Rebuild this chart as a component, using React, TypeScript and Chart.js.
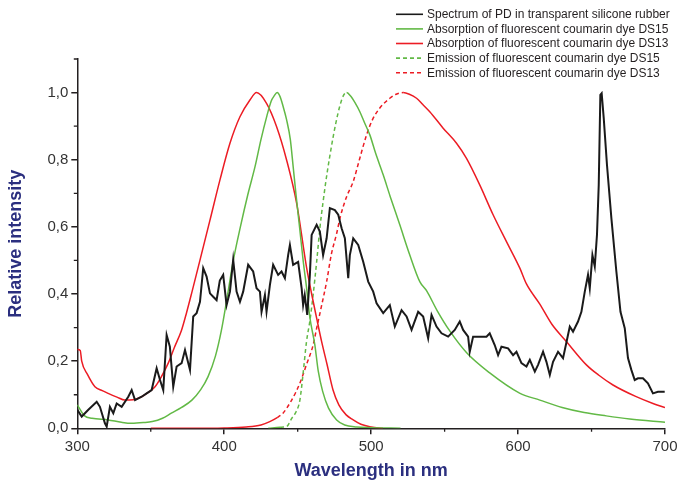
import React, { useEffect, useRef } from "react";
import { Chart, registerables } from "chart.js";

Chart.register(...registerables);

// ---------- Data ----------
const seriesLabels = [
  "Spectrum of PD in transparent silicone rubber",
  "Absorption of fluorescent coumarin dye DS15",
  "Absorption of fluorescent coumarin dye DS13",
  "Emission of fluorescent coumarin dye DS15",
  "Emission of fluorescent coumarin dye DS13",
];

const spectrumNm = [
  300, 303, 307.5, 313.2, 315.4, 318.8, 320, 322.2, 324.5, 326.8, 330.2, 334.7, 337, 339.3, 343.8, 347.2,
  350.6, 354, 356.3, 358.5, 360.8, 363, 365.3, 367.6, 371, 373.3, 376.7, 378.9, 381.2, 383.5, 385.7, 388,
  390.3, 392.5, 394.8, 397, 399.3, 401.6, 403.9, 406.1, 408.4, 410.7, 412.9, 416.3, 419.7, 422, 424.3,
  425.4, 427.7, 428.8, 431.1, 433.3, 436.7, 439, 441.3, 443.5, 444.7, 446.9, 450.3, 452.7, 453.7, 454.8,
  456.5, 458.3, 459.5, 462.9, 465.1, 467.3, 469.7, 471.9, 475.3, 477.6, 479.9, 482.1, 484.4, 485.5, 487.8,
  491.2, 494.6, 498, 501.4, 503.7, 508.2, 512.7, 516.1, 520.7, 524.1, 527.5, 532, 535.4, 538.8, 541.1,
  544.5, 547.9, 552.4, 556.9, 560.3, 562.6, 566, 567.1, 569.4, 573.9, 578.5, 580.7, 584.1, 586.4, 588.7,
  593.2, 596.6, 598.9, 602.3, 605.7, 608, 611.4, 613.6, 617, 619.3, 621.6, 623.8, 627.2, 630.6, 633,
  635.2, 637.4, 640.8, 643.1, 645.4, 647.6, 648.8, 650.6, 652.2, 653.7, 654.9, 656, 656.9, 658.3, 660.5,
  663.5, 666.9, 669.7, 672.6, 674.8, 677.1, 679.4, 681.6, 685, 688.4, 691.8, 695.2, 699.8,
];
const spectrumVal = [
  0.055, 0.035, 0.055, 0.079, 0.064, 0.015, 0.005, 0.064, 0.045, 0.074, 0.064, 0.094, 0.114, 0.084, 0.094, 0.104,
  0.114, 0.179, 0.144, 0.114, 0.278, 0.243, 0.124, 0.184, 0.194, 0.233, 0.174, 0.333, 0.343, 0.377, 0.477, 0.452,
  0.402, 0.392, 0.382, 0.44, 0.457, 0.367, 0.407, 0.502, 0.407, 0.377, 0.407, 0.487, 0.467, 0.417, 0.407,
  0.347, 0.397, 0.347, 0.427, 0.487, 0.457, 0.467, 0.447, 0.516, 0.546, 0.487, 0.496, 0.417, 0.367, 0.397,
  0.338, 0.457, 0.576, 0.606, 0.586, 0.516, 0.566, 0.656, 0.65, 0.636, 0.596, 0.566, 0.447, 0.516, 0.566,
  0.546, 0.496, 0.437, 0.407, 0.372, 0.343, 0.367, 0.303, 0.352, 0.333, 0.293, 0.347, 0.333, 0.268, 0.338,
  0.303, 0.283, 0.273, 0.293, 0.318, 0.293, 0.273, 0.228, 0.273, 0.273, 0.273, 0.283, 0.248, 0.218, 0.243,
  0.238, 0.218, 0.228, 0.194, 0.184, 0.204, 0.169, 0.189, 0.228, 0.198, 0.159, 0.198, 0.228, 0.209, 0.258,
  0.303, 0.288, 0.318, 0.347, 0.407, 0.457, 0.417, 0.516, 0.482, 0.576, 0.725, 0.993, 0.998, 0.924, 0.785,
  0.626, 0.467, 0.347, 0.298, 0.209, 0.174, 0.144, 0.149, 0.149, 0.134, 0.104, 0.109, 0.109,
];

const absDS15Nm = [
  300, 305, 310, 321, 330, 337, 345, 351, 358, 364, 371, 378, 384, 389, 394, 398, 402, 406, 411, 416,
  421, 425, 429, 432, 434, 436, 438, 440, 442.4, 445, 446.9, 449, 451.5, 453.7, 456, 458.3, 461.7, 464,
  467, 471, 476.5, 482, 490, 500, 520,
];
const absDS15Val = [
  0.07, 0.037, 0.03, 0.025, 0.018, 0.015, 0.017, 0.02, 0.03, 0.045, 0.062, 0.084, 0.115, 0.154, 0.215, 0.29,
  0.39, 0.496, 0.6, 0.695, 0.78, 0.86, 0.93, 0.975, 0.99, 1.0, 0.988, 0.96, 0.92, 0.86, 0.78, 0.69, 0.59,
  0.5, 0.42, 0.33, 0.248, 0.17, 0.11, 0.06, 0.025, 0.01, 0.004, 0.002, 0,
];

const absDS13Nm = [
  300, 302, 303, 307, 312, 317, 321, 327, 332.4, 338, 343.8, 348, 352.9, 357, 361.9, 366, 371, 374.4,
  377.8, 383.5, 390.3, 397.1, 403.9, 410.7, 417.5, 422, 428.8, 435.6, 442.4, 449.3, 456, 459.5, 462.9,
  466.3, 470, 474, 478, 483, 487.8, 493, 500, 508,
];
const absDS13Val = [
  0.235, 0.232, 0.2, 0.16, 0.124, 0.112, 0.104, 0.093, 0.084, 0.085, 0.094, 0.106, 0.124, 0.152, 0.194, 0.24,
  0.293, 0.345, 0.402, 0.501, 0.62, 0.74, 0.849, 0.928, 0.978, 1.0, 0.968, 0.899, 0.8, 0.67, 0.48, 0.4,
  0.328, 0.258, 0.19, 0.115, 0.07, 0.04, 0.025, 0.012, 0.004, 0,
];

const emDS15Nm = [
  430, 438, 442.4, 446, 449, 451.5, 453.7, 456, 458.3, 460.5, 463, 465.1, 467.3, 470, 473, 476, 478.7,
  481, 483.3, 486, 489, 492.3, 495.5, 499.1, 503, 508.2, 513, 519.5, 526, 533.1, 537.7, 545, 553.5, 565,
  580.7, 601, 614.8, 630, 645, 660, 676, 700,
];
const emDS15Val = [
  0, 0.003, 0.005, 0.03, 0.05, 0.084, 0.164, 0.258, 0.32, 0.397, 0.5, 0.596, 0.675, 0.76, 0.84, 0.91, 0.96,
  0.99, 1.0, 0.99, 0.97, 0.943, 0.91, 0.874, 0.82, 0.755, 0.69, 0.606, 0.52, 0.437, 0.41, 0.35, 0.29, 0.225,
  0.165, 0.105, 0.084, 0.062, 0.047, 0.037, 0.028, 0.018,
];

const emDS13Nm = [
  350, 380, 400, 415, 425, 431, 436, 440, 444.7, 449, 452, 456, 460.5, 462.9, 466, 469.7, 473, 476.5, 479,
  483.3, 487.8, 492, 496.9, 501, 505.9, 512.7, 517, 521.8, 526, 530.9, 535, 539.9, 549, 558.1, 564.9,
  573.9, 583, 592.1, 601.2, 605.7, 614.8, 623, 633, 646.5, 655, 664.6, 680, 691.8, 700,
];
const emDS13Val = [
  0, 0, 0.001, 0.004, 0.01, 0.02, 0.032, 0.045, 0.075, 0.11, 0.14, 0.19, 0.248, 0.298, 0.36, 0.437, 0.52,
  0.58, 0.63, 0.69, 0.735, 0.8, 0.874, 0.92, 0.954, 0.983, 0.995, 1.0, 0.995, 0.983, 0.965, 0.943, 0.894,
  0.849, 0.804, 0.725, 0.636, 0.556, 0.477, 0.43, 0.37, 0.31, 0.258, 0.189, 0.158, 0.129, 0.095, 0.074, 0.062,
];

const xMajorTicks = [300, 400, 500, 600, 700];
const xMinorTicks = [350, 450, 550, 650];
const yMajorTicks = [0, 0.2, 0.4, 0.6, 0.8, 1.0];
const yMinorTicks = [0.1, 0.3, 0.5, 0.7, 0.9, 1.1];

// ---------- Styles ----------
const BLACK = "#1a1a1a";
const GREEN = "#62b946";
const RED = "#ec1c24";
const AXIS = "#231f20";
const NAVY = "#2b2f7f";
const FONT = 'Arial, "Liberation Sans", sans-serif';

const toPoints = (xs: number[], ys: number[]) => xs.map((x, i) => ({ x, y: ys[i] }));

const minorTickPlugin = {
  id: "minorTicks",
  afterDraw(chart: any) {
    const { ctx, scales } = chart;
    const xs = scales.x;
    const ys = scales.y;
    ctx.save();
    ctx.strokeStyle = AXIS;
    ctx.lineWidth = 1.3;
    ctx.setLineDash([]);
    ctx.beginPath();
    xMinorTicks.forEach((v) => {
      const px = xs.getPixelForValue(v);
      ctx.moveTo(px, ys.bottom);
      ctx.lineTo(px, ys.bottom + 3.5);
    });
    yMinorTicks.forEach((v) => {
      const py = ys.getPixelForValue(v);
      ctx.moveTo(xs.left, py);
      ctx.lineTo(xs.left - 3.5, py);
    });
    ctx.stroke();
    ctx.restore();
  },
};

const legendPlugin = {
  id: "customLegend",
  afterDraw(chart: any) {
    const { ctx } = chart;
    ctx.save();
    ctx.font = `12px ${FONT}`;
    ctx.textBaseline = "middle";
    ctx.textAlign = "left";
    chart.data.datasets.forEach((ds: any, i: number) => {
      const y = 14.3 + i * 14.6;
      ctx.strokeStyle = ds.borderColor;
      ctx.lineWidth = 1.6;
      ctx.setLineDash(ds.legendDash || []);
      ctx.beginPath();
      ctx.moveTo(396, y);
      ctx.lineTo(423, y);
      ctx.stroke();
      ctx.setLineDash([]);
      ctx.fillStyle = AXIS;
      ctx.fillText(ds.label, 427, y + 0.5);
    });
    ctx.restore();
  },
};

export default function App() {
  const canvasRef = useRef<HTMLCanvasElement | null>(null);

  useEffect(() => {
    if (!canvasRef.current) return;
    const dashUntil = (start: number, peak: number) => (ctx: any) =>
      ctx.p0.parsed.x >= start && ctx.p0.parsed.x < peak ? [4, 3] : [];

    const chart = new Chart(canvasRef.current, {
      type: "line",
      data: {
        datasets: [
          {
            label: seriesLabels[0],
            data: toPoints(spectrumNm, spectrumVal),
            borderColor: BLACK,
            borderWidth: 2,
            pointRadius: 0,
            tension: 0,
          },
          {
            label: seriesLabels[1],
            data: toPoints(absDS15Nm, absDS15Val),
            borderColor: GREEN,
            borderWidth: 1.5,
            pointRadius: 0,
            cubicInterpolationMode: "monotone",
          },
          {
            label: seriesLabels[2],
            data: toPoints(absDS13Nm, absDS13Val),
            borderColor: RED,
            borderWidth: 1.5,
            pointRadius: 0,
            cubicInterpolationMode: "monotone",
          },
          {
            label: seriesLabels[3],
            data: toPoints(emDS15Nm, emDS15Val),
            borderColor: GREEN,
            borderWidth: 1.5,
            pointRadius: 0,
            cubicInterpolationMode: "monotone",
            legendDash: [4, 3],
            segment: { borderDash: dashUntil(436, 483.3) },
          } as any,
          {
            label: seriesLabels[4],
            data: toPoints(emDS13Nm, emDS13Val),
            borderColor: RED,
            borderWidth: 1.5,
            pointRadius: 0,
            cubicInterpolationMode: "monotone",
            legendDash: [4, 3],
            segment: { borderDash: dashUntil(436, 521.8) },
          } as any,
        ],
      },
      options: {
        responsive: false,
        animation: false,
        events: [],
        layout: { padding: { top: 59, right: 13, left: 0, bottom: 0 } },
        plugins: {
          legend: { display: false },
          tooltip: { enabled: false },
        },
        scales: {
          x: {
            type: "linear",
            min: 300,
            max: 700,
            afterFit: (s: any) => {
              s.height = 54.7;
              s.paddingLeft = 0;
              s.paddingRight = 0;
            },
            afterBuildTicks: (s: any) => {
              s.ticks = xMajorTicks.map((v) => ({ value: v }));
            },
            border: { display: true, color: AXIS, width: 1.5 },
            grid: {
              display: true,
              drawOnChartArea: false,
              drawTicks: true,
              tickLength: 6,
              color: AXIS,
              lineWidth: 1.5,
            },
            ticks: {
              color: "#333",
              font: { family: FONT, size: 15 },
              padding: 4,
              maxRotation: 0,
              callback: (v: any) => String(v),
            },
            title: {
              display: true,
              text: "Wavelength in nm",
              color: NAVY,
              font: { family: FONT, size: 18, weight: "bold" },
              padding: { top: 0, bottom: 1 },
            },
          },
          y: {
            type: "linear",
            min: 0,
            max: 1.1,
            afterFit: (s: any) => {
              s.width = 77.3;
              s.paddingTop = 0;
              s.paddingBottom = 0;
            },
            afterBuildTicks: (s: any) => {
              s.ticks = yMajorTicks.map((v) => ({ value: v }));
            },
            border: { display: true, color: AXIS, width: 1.5 },
            grid: {
              display: true,
              drawOnChartArea: false,
              drawTicks: true,
              tickLength: 6,
              color: AXIS,
              lineWidth: 1.5,
            },
            ticks: {
              color: "#333",
              font: { family: FONT, size: 15 },
              padding: 3,
              callback: (v: any) => Number(v).toFixed(1).replace(".", ","),
            },
            title: {
              display: true,
              text: "Relative intensity",
              color: NAVY,
              font: { family: FONT, size: 18, weight: "bold" },
              padding: { top: 5, bottom: 0 },
            },
          },
        },
      } as any,
      plugins: [minorTickPlugin, legendPlugin],
    });
    return () => chart.destroy();
  }, []);

  return (
    <div style={{ position: "absolute", left: 0, top: 0, width: 678, height: 483, background: "#fff" }}>
      <canvas ref={canvasRef} width={678} height={483} style={{ display: "block" }} />
    </div>
  );
}
